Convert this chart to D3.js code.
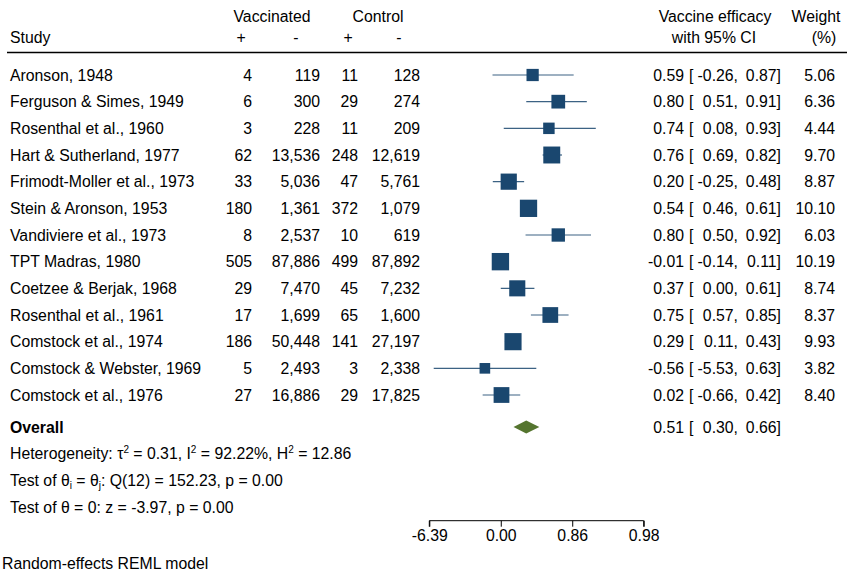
<!DOCTYPE html>
<html><head><meta charset="utf-8">
<script src="https://cdn.jsdelivr.net/npm/d3@7"></script>
<style>
body{margin:0;background:#fff;}
text{font-family:"Liberation Sans",Arial,Helvetica,sans-serif;font-size:15.8px;fill:#000;}
</style></head>
<body><svg id="c" width="850" height="572"></svg>
<script>
const studies = ["Aronson, 1948","Ferguson & Simes, 1949","Rosenthal et al., 1960","Hart & Sutherland, 1977","Frimodt-Moller et al., 1973","Stein & Aronson, 1953","Vandiviere et al., 1973","TPT Madras, 1980","Coetzee & Berjak, 1968","Rosenthal et al., 1961","Comstock et al., 1974","Comstock & Webster, 1969","Comstock et al., 1976"];
const vaccPos = [4,6,3,62,33,180,8,505,29,17,186,5,27];
const vaccNeg = [119,300,228,13536,5036,1361,2537,87886,7470,1699,50448,2493,16886];
const ctrlPos = [11,29,11,248,47,372,10,499,45,65,141,3,29];
const ctrlNeg = [128,274,209,12619,5761,1079,619,87892,7232,1600,27197,2338,17825];
const efficacy = [0.59,0.80,0.74,0.76,0.20,0.54,0.80,-0.01,0.37,0.75,0.29,-0.56,0.02];
const ciLow = [-0.26,0.51,0.08,0.69,-0.25,0.46,0.50,-0.14,0.00,0.57,0.11,-5.53,-0.66];
const ciHigh = [0.87,0.91,0.93,0.82,0.48,0.61,0.92,0.11,0.61,0.85,0.43,0.63,0.42];
const weights = [5.06,6.36,4.44,9.70,8.87,10.10,6.03,10.19,8.74,8.37,9.93,3.82,8.40];
const overall = {est:0.51, lo:0.30, hi:0.66};
const tickNegLogRR = [-2,0,2,4];
const tickLabels = ["-6.39","0.00","0.86","0.98"];

const svg = d3.select("#c");
const fmtN = d3.format(",");
const f2 = v => v.toFixed(2);
const tr = e => -Math.log(1 - e); // efficacy -> -log RR
const x = d3.scaleLinear().domain([-2,4]).range([429.3,643.7]);
const y = d3.scalePoint().domain(d3.range(studies.length)).range([75,395]);
const side = d3.scaleSqrt().domain([0,10]).range([0,17.2]);
const navy = "#1a476f", green = "#55752f";

// header
const hd = svg.append("g");
hd.append("text").attr("x",272).attr("y",22).attr("text-anchor","middle").text("Vaccinated");
hd.append("text").attr("x",378).attr("y",22).attr("text-anchor","middle").text("Control");
hd.append("text").attr("x",10).attr("y",43).text("Study");
[["+",241],["-",296],["+",348],["-",399]].forEach(([t,xx])=>hd.append("text").attr("x",xx).attr("y",43).attr("text-anchor","middle").text(t));
hd.append("text").attr("x",715).attr("y",22).attr("text-anchor","middle").text("Vaccine efficacy");
hd.append("text").attr("x",714).attr("y",43).attr("text-anchor","middle").text("with 95% CI");
hd.append("text").attr("x",816).attr("y",22).attr("text-anchor","middle").text("Weight");
hd.append("text").attr("x",824).attr("y",43).attr("text-anchor","middle").text("(%)");
svg.append("line").attr("x1",7).attr("x2",847).attr("y1",52.5).attr("y2",52.5).attr("stroke","#000").attr("stroke-width",1.4);

// rows
const rows = svg.append("g").selectAll("g").data(studies).join("g")
  .attr("transform",(d,i)=>`translate(0,${y(i)})`);
rows.append("text").attr("x",10).attr("dy","0.36em").text(d=>d);
const cols = [[vaccPos,252],[vaccNeg,320],[ctrlPos,358],[ctrlNeg,420]];
cols.forEach(([arr,xx])=>rows.append("text").attr("x",xx).attr("dy","0.36em").attr("text-anchor","end").text((d,i)=>fmtN(arr[i])));
rows.append("line").attr("x1",(d,i)=>x(tr(ciLow[i]))).attr("x2",(d,i)=>x(tr(ciHigh[i])))
  .attr("stroke",navy).attr("stroke-width",1.2).attr("stroke-opacity",0.85);
rows.append("rect").attr("x",(d,i)=>x(tr(efficacy[i]))-side(weights[i])/2).attr("y",(d,i)=>-side(weights[i])/2)
  .attr("width",(d,i)=>side(weights[i])).attr("height",(d,i)=>side(weights[i])).attr("fill",navy);
function ciText(g, est, lo, hi){
  g.append("text").attr("x",684).attr("dy","0.36em").attr("text-anchor","end").text(est);
  g.append("text").attr("x",689).attr("dy","0.36em").text("[");
  g.append("text").attr("x",738).attr("dy","0.36em").attr("text-anchor","end").text(lo+",");
  g.append("text").attr("x",781).attr("dy","0.36em").attr("text-anchor","end").text(hi+"]");
}
rows.each(function(d,i){ ciText(d3.select(this), f2(efficacy[i]), f2(ciLow[i]), f2(ciHigh[i])); });
rows.append("text").attr("x",835).attr("dy","0.36em").attr("text-anchor","end").text((d,i)=>f2(weights[i]));

// overall
const oy = 427;
const og = svg.append("g").attr("transform",`translate(0,${oy})`);
og.append("text").attr("x",10).attr("dy","0.36em").attr("font-weight","bold").text("Overall");
const dh = 6.5;
og.append("path").attr("d",`M${x(tr(overall.lo))},0L${x(tr(overall.est))},${-dh}L${x(tr(overall.hi))},0L${x(tr(overall.est))},${dh}Z`).attr("fill",green);
ciText(og, f2(overall.est), f2(overall.lo), f2(overall.hi));

// stats
const s1 = svg.append("text").attr("x",10).attr("y",459);
s1.append("tspan").text("Heterogeneity: \u03c4");
s1.append("tspan").attr("font-size","10px").attr("dy",-6).text("2");
s1.append("tspan").attr("dy",6).text(" = 0.31, I");
s1.append("tspan").attr("font-size","10px").attr("dy",-6).text("2");
s1.append("tspan").attr("dy",6).text(" = 92.22%, H");
s1.append("tspan").attr("font-size","10px").attr("dy",-6).text("2");
s1.append("tspan").attr("dy",6).text(" = 12.86");
const s2 = svg.append("text").attr("x",10).attr("y",486);
s2.append("tspan").text("Test of \u03b8");
s2.append("tspan").attr("font-size","10px").attr("dy",3).text("i");
s2.append("tspan").attr("dy",-3).text(" = \u03b8");
s2.append("tspan").attr("font-size","10px").attr("dy",3).text("j");
s2.append("tspan").attr("dy",-3).text(": Q(12) = 152.23, p = 0.00");
svg.append("text").attr("x",10).attr("y",513).text("Test of \u03b8 = 0: z = -3.97, p = 0.00");
svg.append("text").attr("x",2).attr("y",569).text("Random-effects REML model");

// axis
const axis = d3.axisBottom(x).tickValues(tickNegLogRR).tickSize(6).tickPadding(3)
  .tickFormat((d,i)=>tickLabels[i]);
const ag = svg.append("g").attr("transform","translate(0,520.7)").call(axis);
ag.select(".domain").attr("stroke","#000").attr("d",`M${x(-2)},6V0H${x(4)}V6`);
ag.selectAll("text").style("font-size","15.8px").style("font-family","Liberation Sans, Arial, sans-serif").attr("fill","#000");
ag.selectAll("line").attr("stroke","#000");
</script></body></html>
